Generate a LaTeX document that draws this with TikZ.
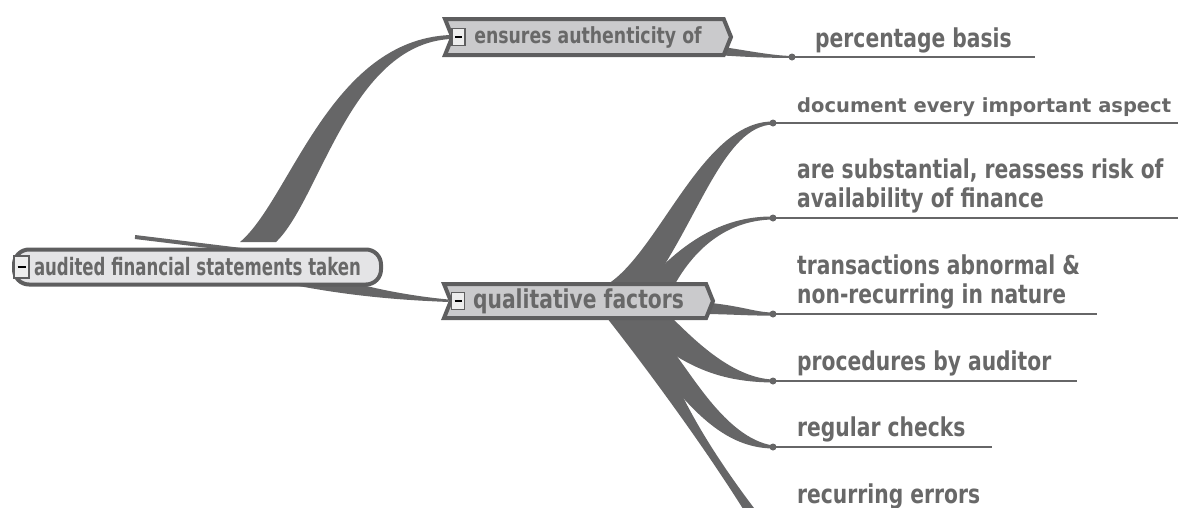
\documentclass[tikz,border=0pt]{standalone}
\usepackage{fontspec}
\newfontfamily\mapfont[FakeStretch=0.78]{DejaVu Sans Bold}
\newfontfamily\rootfont[FakeStretch=0.69]{DejaVu Sans Bold}
\newfontfamily\plainfont{DejaVu Sans Bold}
\usetikzlibrary{positioning,calc,shapes.symbols,backgrounds}

\definecolor{limbgray}{HTML}{666667}
\definecolor{edgegray}{HTML}{5E5E5F}
\definecolor{hexgray}{HTML}{CACACC}
\definecolor{rootgray}{HTML}{E4E4E6}
\definecolor{boxgray}{HTML}{EDEDED}
\definecolor{txtgray}{HTML}{686868}

\begin{document}
\begin{tikzpicture}[x=1pt, y=-1pt,
  limb/.style={fill=limbgray},
  hexnode/.style={signal, signal from=west, signal to=east, signal pointer angle=136,
    draw=edgegray, line width=4pt, fill=hexgray, text=txtgray, inner sep=0pt},
  rootnode/.style={draw=edgegray, line width=4pt, fill=rootgray, rounded corners=15pt,
    minimum width=367pt, minimum height=35pt, inner sep=0pt, text=txtgray,
    font=\rootfont\fontsize{24}{26}\selectfont},
  minusbox/.style={draw=edgegray, line width=1.5pt, fill=boxgray, inner sep=0pt,
    minimum width=13pt, minimum height=17pt},
  leaf/.style={anchor=base west, inner sep=0pt, text=txtgray, align=left,
    font=\mapfont\fontsize{26}{29}\selectfont},
  uline/.style={draw=limbgray, line width=2pt},
  leafdot/.style={fill=limbgray}]
  \useasboundingbox (0,0) rectangle (1178,507);
  \clip (0,0) rectangle (1178,507);

  \coordinate (pb) at (792,57);
  \coordinate (l1) at (773,123);
  \coordinate (l2) at (773,218);
  \coordinate (l3) at (773,314);
  \coordinate (l4) at (773,381);
  \coordinate (l5) at (773,447);
  \coordinate (l6) at (773,515);

  \node[rootnode] (root) at (197.5,267) {audited financial statements taken};
  \node[hexnode, minimum width=286pt, minimum height=36pt,
    font=\mapfont\fontsize{22.2}{24}\selectfont] (auth) at (588,37) {ensures authenticity of};
  \node[hexnode, minimum width=269pt, minimum height=34pt,
    font=\mapfont\fontsize{26}{28}\selectfont] (qual) at (578.5,301) {qualitative factors};

  \node[minusbox, minimum width=15pt, minimum height=22pt] (rootbox) at ($(root.west)+(9.5,0)$) {\rule{8pt}{2pt}};
  \node[minusbox] (authbox) at ($(auth.west)+(8.5,0)$) {\rule{7pt}{2pt}};
  \node[minusbox] (qualbox) at ($(qual.west)+(9.5,0)$) {\rule{7pt}{2pt}};

  \begin{pgfonlayer}{background}
    \fill[limb] (240,242) .. controls (290,200) and (330,40) .. ($(auth.west)+(0,-2)$)
      -- ($(auth.west)+(0,2)$) .. controls (350,45) and (320,200) .. (276,242) -- cycle;
    \draw[limbgray, line width=4pt] (135,237) -- (258,252);
    \fill[limb] (265,279) .. controls (340,296) and (400,300) .. ($(qual.west)+(0,1)$)
      -- ($(qual.west)+(0,-1.5)$) .. controls (410,296) and (370,288) .. (345,280) -- cycle;
    \fill[limb] (716,46) .. controls (745,50) and (770,55.5) .. ($(pb)+(0,-1)$)
      -- ($(pb)+(0,1)$) .. controls (770,58) and (745,57) .. (716,55) -- cycle;
    \fill[limb] (608,284) .. controls (660,250) and (703,121) .. ($(l1)+(0,-1.5)$)
      -- ($(l1)+(0,1.5)$) .. controls (725,126) and (700,215) .. (652,284) -- cycle;
    \fill[limb] (645,284) .. controls (680,245) and (720,216) .. ($(l2)+(0,-1.5)$)
      -- ($(l2)+(0,1.5)$) .. controls (735,220) and (700,240) .. (675,284) -- cycle;
    \fill[limb] (700,302) .. controls (740,305) and (755,312.5) .. ($(l3)+(0,-1.5)$)
      -- ($(l3)+(0,1.5)$) .. controls (750,316) and (730,314) .. (700,314) -- cycle;
    \fill[limb] (672,318) .. controls (690,335) and (730,378) .. ($(l4)+(0,-1.5)$)
      -- ($(l4)+(0,1.5)$) .. controls (735,382) and (700,375) .. (660,345) -- cycle;
    \fill[limb] (668,345) .. controls (690,370) and (725,438) .. ($(l5)+(0,-1.5)$)
      -- ($(l5)+(0,1.5)$) .. controls (735,448) and (705,425) .. (672,385) -- cycle;
    \fill[limb] (607,318) .. controls (640,360) and (700,440) .. (745,512)
      -- (757,512) .. controls (725,470) and (695,425) .. (675,380) -- (672,318) -- cycle;
  \end{pgfonlayer}

  \node[leaf] (pbt) at ($(pb)+(23,-10)$) {percentage basis};
  \node[leaf, font=\plainfont\fontsize{19.5}{22}\selectfont] (l1t) at ($(l1)+(24,-11)$) {document every important aspect};
  \node[leaf] (l2t) at ($(l2)+(24,-11)$) {are substantial, reassess risk of\\availability of finance};
  \node[leaf] (l3t) at ($(l3)+(24,-11)$) {transactions abnormal \&\\non-recurring in nature};
  \node[leaf] (l4t) at ($(l4)+(24,-11)$) {procedures by auditor};
  \node[leaf] (l5t) at ($(l5)+(24,-11)$) {regular checks};
  \node[leaf] (l6t) at ($(l6)+(24,-12)$) {recurring errors};

  \draw[uline] (pb) -- ($(pbt.east |- pb)+(23,0)$);
  \draw[uline] (l1) -- ($(l1t.east |- l1)+(24,0)$);
  \draw[uline] (l2) -- ($(l2t.east |- l2)+(24,0)$);
  \draw[uline] (l3) -- ($(l3t.east |- l3)+(17,0)$);
  \draw[uline] (l4) -- ($(l4t.east |- l4)+(26,0)$);
  \draw[uline] (l5) -- ($(l5t.east |- l5)+(26,0)$);
  \draw[uline] (l6) -- ($(l6t.east |- l6)+(26,0)$);
  \foreach \d in {pb,l1,l2,l3,l4,l5,l6}
    \fill[leafdot] (\d) circle (3.5pt);
\end{tikzpicture}
\end{document}
